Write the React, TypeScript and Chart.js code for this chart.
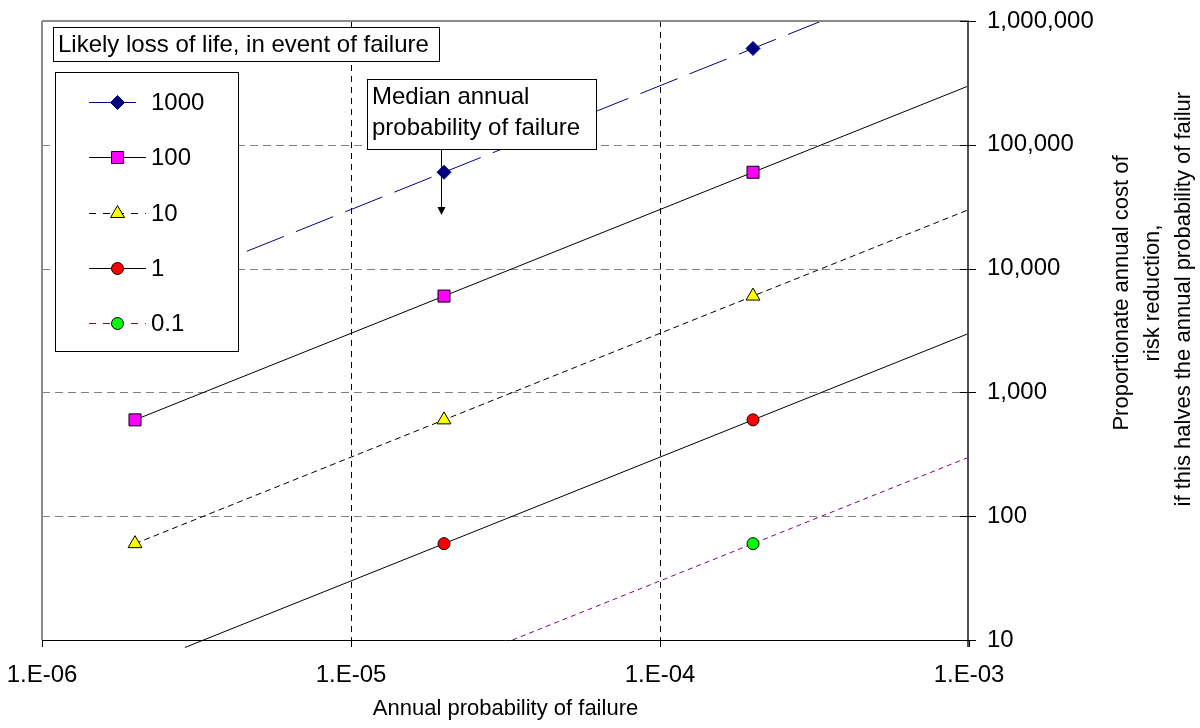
import React, { useEffect, useRef } from 'react';
import { Chart, registerables } from 'chart.js';

Chart.register(...registerables);

const FONT = '"Liberation Sans", Arial, sans-serif';

// Axis ticks
const xTickValues = [1e-6, 1e-5, 1e-4, 1e-3];
const xTickLabels = ['1.E-06', '1.E-05', '1.E-04', '1.E-03'];
const yTickValues = [10, 100, 1000, 10000, 100000, 1000000];
const yTickLabels = ['10', '100', '1,000', '10,000', '100,000', '1,000,000'];

// Series: likely loss of life
const seriesNames = ['1000', '100', '10', '1', '0.1'];
const points1000 = [{ x: 2e-5, y: 60000 }, { x: 2e-4, y: 600000 }];
const points100 = [{ x: 2e-6, y: 600 }, { x: 2e-5, y: 6000 }, { x: 2e-4, y: 60000 }];
const points10 = [{ x: 2e-6, y: 60 }, { x: 2e-5, y: 600 }, { x: 2e-4, y: 6000 }];
const points1 = [{ x: 2e-5, y: 60 }, { x: 2e-4, y: 600 }];
const points01 = [{ x: 2e-4, y: 60 }];

// Trend lines (start / end)
const trend1000 = [{ x: 4.6e-6, y: 13800 }, { x: 1e-3, y: 3000000 }];
const trend100 = [{ x: 2e-6, y: 600 }, { x: 1e-3, y: 300000 }];
const trend10 = [{ x: 2e-6, y: 60 }, { x: 1e-3, y: 30000 }];
const trend1 = [{ x: 2.9e-6, y: 8.7 }, { x: 1e-3, y: 3000 }];
const trend01 = [{ x: 3.33e-5, y: 10 }, { x: 1e-3, y: 300 }];

const medianProbability = 2e-5;

const legendTitle = 'Likely loss of life, in event of failure';
const annotationLines = ['Median annual', 'probability of failure'];
const xTitle = 'Annual probability of failure';
const yTitleLines = [
  'Proportionate annual cost of',
  'risk reduction,',
  'if this halves the annual probability of failure',
];

const styles = [
  { line: '#000080', dash: [40, 13], legendDash: [], legendEnd: 136, shape: 'rectRot', fill: '#000080', border: '#000080', r: 7 },
  { line: '#000000', dash: [], legendDash: [], legendEnd: 146, shape: 'rect', fill: '#FF00FF', border: '#000000', r: 8.5 },
  { line: '#000000', dash: [6, 4], legendDash: [7, 7], legendEnd: 146, shape: 'triangle', fill: '#FFFF00', border: '#000000', r: 8 },
  { line: '#000000', dash: [], legendDash: [], legendEnd: 146, shape: 'circle', fill: '#FF0000', border: '#000000', r: 6 },
  { line: '#800080', dash: [5, 4], legendDash: [7, 7], legendEnd: 146, shape: 'circle', fill: '#00FF00', border: '#000000', r: 6 },
];

const pointSets = [points1000, points100, points10, points1, points01];
const trendSets = [trend1000, trend100, trend10, trend1, trend01];

function drawMarker(ctx: CanvasRenderingContext2D, shape: string, x: number, y: number, r: number, fill: string, border: string) {
  ctx.save();
  ctx.setLineDash([]);
  ctx.beginPath();
  if (shape === 'circle') {
    ctx.arc(x, y, r, 0, Math.PI * 2);
  } else if (shape === 'rect') {
    const s = r * Math.SQRT1_2;
    ctx.rect(x - s, y - s, 2 * s, 2 * s);
  } else if (shape === 'rectRot') {
    ctx.moveTo(x, y - r);
    ctx.lineTo(x + r, y);
    ctx.lineTo(x, y + r);
    ctx.lineTo(x - r, y);
    ctx.closePath();
  } else if (shape === 'triangle') {
    ctx.moveTo(x, y - r);
    ctx.lineTo(x + r * Math.sin(Math.PI * 2 / 3), y - r * Math.cos(Math.PI * 2 / 3));
    ctx.lineTo(x + r * Math.sin(Math.PI * 4 / 3), y - r * Math.cos(Math.PI * 4 / 3));
    ctx.closePath();
  }
  ctx.fillStyle = fill;
  ctx.fill();
  ctx.lineWidth = 1;
  ctx.strokeStyle = border;
  ctx.stroke();
  ctx.restore();
}

function seg(ctx: CanvasRenderingContext2D, x1: number, y1: number, x2: number, y2: number) {
  ctx.beginPath();
  ctx.moveTo(x1, y1);
  ctx.lineTo(x2, y2);
  ctx.stroke();
}

const overlayPlugin = {
  id: 'overlay',
  beforeDatasetsDraw(chart: any) {
    const { ctx, chartArea: a, scales } = chart;
    const xs = scales.x;
    const ys = scales.y;
    ctx.save();
    ctx.lineWidth = 1;
    ctx.strokeStyle = '#808080';
    ctx.setLineDash([8, 5]);
    yTickValues.forEach((v) => {
      if (v === yTickValues[0] || v === yTickValues[yTickValues.length - 1]) return;
      const py = Math.round(ys.getPixelForValue(v)) + 0.5;
      seg(ctx, a.left, py, a.right, py);
    });
    ctx.strokeStyle = '#000000';
    ctx.setLineDash([6, 5]);
    xTickValues.slice(1, -1).forEach((v) => {
      const px = Math.round(xs.getPixelForValue(v)) + 0.5;
      seg(ctx, px, a.top, px, a.bottom);
    });
    ctx.restore();
  },
  afterDatasetsDraw(chart: any) {
    const { ctx, chartArea: a, scales } = chart;
    const xs = scales.x;
    const ys = scales.y;
    ctx.save();
    ctx.setLineDash([]);
    // plot border (left, top)
    ctx.strokeStyle = '#8a8a8a';
    ctx.lineWidth = 2;
    seg(ctx, a.left, a.top, a.left, a.bottom);
    seg(ctx, a.left, a.top, a.right, a.top);
    // right value axis
    ctx.strokeStyle = '#505050';
    ctx.lineWidth = 2;
    seg(ctx, a.right - 1, a.top, a.right - 1, a.bottom + 7);
    // bottom category axis
    ctx.strokeStyle = '#000000';
    ctx.lineWidth = 1;
    seg(ctx, a.left, a.bottom + 0.5, a.right, a.bottom + 0.5);
    // x ticks
    xTickValues.forEach((v) => {
      const px = Math.round(xs.getPixelForValue(v)) + 0.5;
      seg(ctx, px, a.bottom, px, a.bottom + 7);
    });
    // y ticks (cross)
    yTickValues.forEach((v) => {
      const py = Math.round(ys.getPixelForValue(v)) + 0.5;
      seg(ctx, a.right - 9, py, a.right + 7, py);
    });

    // legend title box
    ctx.font = `24px ${FONT}`;
    ctx.fillStyle = '#ffffff';
    ctx.fillRect(53, 27, 386, 34);
    ctx.strokeStyle = '#000';
    ctx.lineWidth = 1;
    ctx.strokeRect(53.5, 27.5, 386, 34);
    ctx.fillStyle = '#000';
    ctx.textAlign = 'left';
    ctx.textBaseline = 'middle';
    ctx.fillText(legendTitle, 58, 45);

    // legend box
    ctx.fillStyle = '#ffffff';
    ctx.fillRect(55, 72, 183, 279);
    ctx.strokeRect(55.5, 72.5, 183, 279);
    seriesNames.forEach((name, i) => {
      const st = styles[i];
      const ly = Math.round(102 + i * 55.3) + 0.5;
      ctx.save();
      ctx.strokeStyle = st.line;
      ctx.lineWidth = 1;
      ctx.setLineDash(st.legendDash);
      seg(ctx, 89, ly, st.legendEnd, ly);
      ctx.restore();
      drawMarker(ctx, st.shape, 117.5, ly, st.r, st.fill, st.border);
      ctx.fillStyle = '#000';
      ctx.font = `24px ${FONT}`;
      ctx.fillText(name, 151, ly + 1);
    });

    // annotation box
    ctx.fillStyle = '#ffffff';
    ctx.fillRect(367, 79, 229, 70);
    ctx.strokeStyle = '#000';
    ctx.strokeRect(367.5, 79.5, 229, 70);
    ctx.fillStyle = '#000';
    ctx.fillText(annotationLines[0], 372, 97);
    ctx.fillText(annotationLines[1], 372, 128);
    // arrow
    const ax = Math.round(xs.getPixelForValue(medianProbability)) - 3 + 0.5;
    ctx.lineWidth = 1;
    seg(ctx, ax, 150, ax, 208);
    ctx.beginPath();
    ctx.moveTo(ax - 4, 207);
    ctx.lineTo(ax + 4, 207);
    ctx.lineTo(ax, 215);
    ctx.closePath();
    ctx.fill();

    // x title
    ctx.font = `22px ${FONT}`;
    ctx.textAlign = 'center';
    ctx.textBaseline = 'middle';
    ctx.fillText(xTitle, (a.left + a.right) / 2, 709);

    // y title (rotated)
    ctx.save();
    ctx.beginPath();
    ctx.rect(0, 92, 1200, 700);
    ctx.clip();
    const cxs = [1122, 1153, 1184];
    yTitleLines.forEach((t, i) => {
      ctx.save();
      ctx.translate(cxs[i], 293);
      ctx.rotate(-Math.PI / 2);
      ctx.fillText(t, 0, 0);
      ctx.restore();
    });
    ctx.restore();
    ctx.restore();
  },
};

export default function App() {
  const ref = useRef<HTMLCanvasElement | null>(null);
  useEffect(() => {
    document.body.style.margin = '0';
    if (!ref.current) return;
    const markerDatasets = pointSets.map((pts, i) => ({
      label: seriesNames[i],
      data: pts,
      showLine: false,
      pointStyle: styles[i].shape,
      pointRadius: styles[i].r,
      pointBackgroundColor: styles[i].fill,
      pointBorderColor: styles[i].border,
      pointBorderWidth: 1,
      order: 0,
    }));
    const trendDatasets = trendSets.map((pts, i) => ({
      label: seriesNames[i] + ' trend',
      data: pts,
      showLine: true,
      borderColor: styles[i].line,
      borderWidth: 1,
      borderDash: styles[i].dash,
      pointRadius: 0,
      fill: false,
      order: 1,
      clip: { left: 0, top: 0, right: 0, bottom: 8 },
    }));
    const chart = new Chart(ref.current, {
      type: 'scatter',
      data: { datasets: [...markerDatasets, ...trendDatasets] as any },
      plugins: [overlayPlugin],
      options: {
        animation: false,
        responsive: false,
        events: [],
        layout: { padding: { left: 42, top: 21, right: 0, bottom: 0 } },
        plugins: { legend: { display: false }, tooltip: { enabled: false } },
        scales: {
          x: {
            type: 'logarithmic',
            min: 1e-6,
            max: 1e-3,
            grid: { display: false, drawTicks: false },
            border: { display: false },
            afterBuildTicks: (s: any) => {
              s.ticks = xTickValues.map((v) => ({ value: v }));
            },
            afterFit: (s: any) => {
              s.height = 88;
              s.paddingLeft = 0;
              s.paddingRight = 0;
              s.paddingTop = 0;
              s.paddingBottom = 0;
            },
            ticks: {
              autoSkip: false,
              maxRotation: 0,
              minRotation: 0,
              padding: 21,
              color: '#000',
              font: { family: FONT, size: 24 },
              callback: (_v: any, i: number) => xTickLabels[i],
            },
          },
          y: {
            type: 'logarithmic',
            position: 'right',
            min: 10,
            max: 1000000,
            grid: { display: false, drawTicks: false },
            border: { display: false },
            afterBuildTicks: (s: any) => {
              s.ticks = yTickValues.map((v) => ({ value: v }));
            },
            afterFit: (s: any) => {
              s.width = 231;
              s.paddingLeft = 0;
              s.paddingRight = 0;
              s.paddingTop = 0;
              s.paddingBottom = 0;
            },
            ticks: {
              autoSkip: false,
              padding: 18,
              color: '#000',
              font: { family: FONT, size: 24 },
              callback: (_v: any, i: number) => yTickLabels[i],
            },
          },
        },
      } as any,
    });
    return () => chart.destroy();
  }, []);
  return (
    <div style={{ position: 'absolute', left: 0, top: 0, width: 1200, height: 728, background: '#fff' }}>
      <canvas ref={ref} width={1200} height={728} style={{ display: 'block' }} />
    </div>
  );
}
